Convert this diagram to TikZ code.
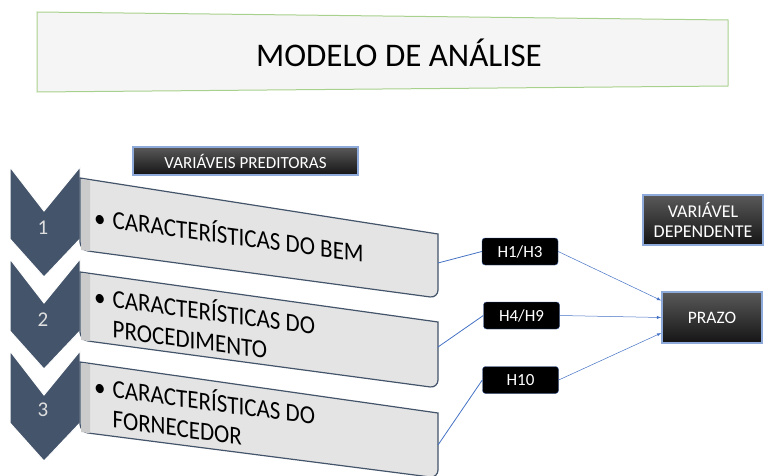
\documentclass[tikz,border=0pt]{standalone}
\usepackage{fontspec}
\setmainfont{Carlito}
\usetikzlibrary{arrows}
\definecolor{slate}{HTML}{44546A}
\definecolor{linkblue}{HTML}{4472C4}
\definecolor{titlegreen}{HTML}{A9D18E}
\definecolor{frameblue}{HTML}{8EAADB}
\definecolor{rowgray}{HTML}{E4E4E4}
\definecolor{stripgray}{HTML}{CBCBCB}

\begin{document}
\begin{tikzpicture}[x=1pt,y=-1pt,>=latex,
    chevron/.style={fill=slate,draw=white,line width=1pt},
    rowbox/.style={fill=rowgray,draw=slate,line width=1.2pt},
    rowtext/.style={yslant=-0.135,yscale=1.12,anchor=base west,inner sep=0pt,font=\fontsize{23}{27}\selectfont},
    num/.style={text=gray!25,font=\fontsize{21}{21}\selectfont},
    hyp/.style={fill=black,draw=linkblue!80!black,rounded corners=3pt,text=white,
      minimum width=76pt,minimum height=27pt,font=\fontsize{17}{17}\selectfont},
    darkbox/.style={top color=black!65,bottom color=black!92,draw=frameblue,line width=1.5pt,
      text=white,align=center,font=\fontsize{18}{20}\selectfont},
    link/.style={draw=linkblue,line width=0.8pt},
    toprazo/.style={->,draw=linkblue,line width=0.5pt}]
  \useasboundingbox (0,0) rectangle (766,476);

  % title
  \draw[fill=gray!8,draw=titlegreen,line width=1pt] (37,12) -- (728,20) -- (728,86) -- (37,92) -- cycle;
  \node[font=\fontsize{33}{33}\selectfont] (title) at (399,53) {MODELO DE ANÁLISE};

  \node[darkbox,minimum width=225pt,minimum height=28pt,font=\fontsize{17}{17}\selectfont] (pred) at (245.5,161) {VARIÁVEIS PREDITORAS};

  % chevrons
  \draw[chevron] (10,167) -- (44,211) -- (80,167) -- (80,239) -- (44,277) -- (10,239) -- cycle;
  \draw[chevron] (10,259) -- (44,303) -- (80,259) -- (80,331) -- (44,369) -- (10,331) -- cycle;
  \draw[chevron] (10,351) -- (44,395) -- (80,351) -- (80,423) -- (44,461) -- (10,423) -- cycle;
  \node[num] (n1) at (43,228) {1};
  \node[num] (n2) at (43,320) {2};
  \node[num] (n3) at (43,410) {3};

  % rows
  \draw[rowbox] (80,178) -- (438,234) [rounded corners=8pt] -- (438,298) -- (80,250) [sharp corners] -- cycle;
  \fill[stripgray] (81,179) -- (90,180.4) -- (90,251.3) -- (81,250) -- cycle;
  \draw[rowbox] (80,272) -- (438,322) [rounded corners=8pt] -- (438,388) -- (80,340) [sharp corners] -- cycle;
  \fill[stripgray] (81,273) -- (90,274.3) -- (90,341.3) -- (81,340) -- cycle;
  \draw[rowbox] (80,362) -- (438,413) [rounded corners=8pt] -- (438,478) -- (80,432) [sharp corners] -- cycle;
  \fill[stripgray] (81,363) -- (90,364.3) -- (90,433.3) -- (81,432) -- cycle;

  \node[rowtext] (bem) at (94,226) {\textbullet\hspace{7pt}CARACTERÍSTICAS DO BEM};
  \node[rowtext] (proc) at (94,305) {\textbullet\hspace{7pt}\begin{tabular}[t]{@{}l@{}}CARACTERÍSTICAS DO\\PROCEDIMENTO\end{tabular}};
  \node[rowtext] (forn) at (94,395) {\textbullet\hspace{7pt}\begin{tabular}[t]{@{}l@{}}CARACTERÍSTICAS DO\\FORNECEDOR\end{tabular}};
  \coordinate (bemR) at (438,263);
  \coordinate (procR) at (438,347);
  \coordinate (fornR) at (438,445);

  % hypotheses
  \node[hyp] (h13) at (520,251.5) {H1/H3};
  \node[hyp] (h49) at (521.5,315.5) {H4/H9};
  \node[hyp] (h10) at (520.5,380) {H10};

  \node[darkbox,minimum width=120pt,minimum height=50pt] (dep) at (703,220) {VARIÁVEL\\DEPENDENTE};
  \node[darkbox,minimum width=100pt,minimum height=51pt,font=\fontsize{17.5}{17.5}\selectfont] (prazo) at (712,317.5) {PRAZO};

  \draw[link] (bemR) -- (h13.west);
  \draw[link] (procR) -- (h49.west);
  \draw[link] (fornR) -- (h10.west);
  \draw[toprazo] (h13.east) -- ([yshift=17pt]prazo.west);
  \draw[toprazo] (h49.east) -- (prazo.west);
  \draw[toprazo] (h10.east) -- ([yshift=-15.5pt]prazo.west);
\end{tikzpicture}
\end{document}
